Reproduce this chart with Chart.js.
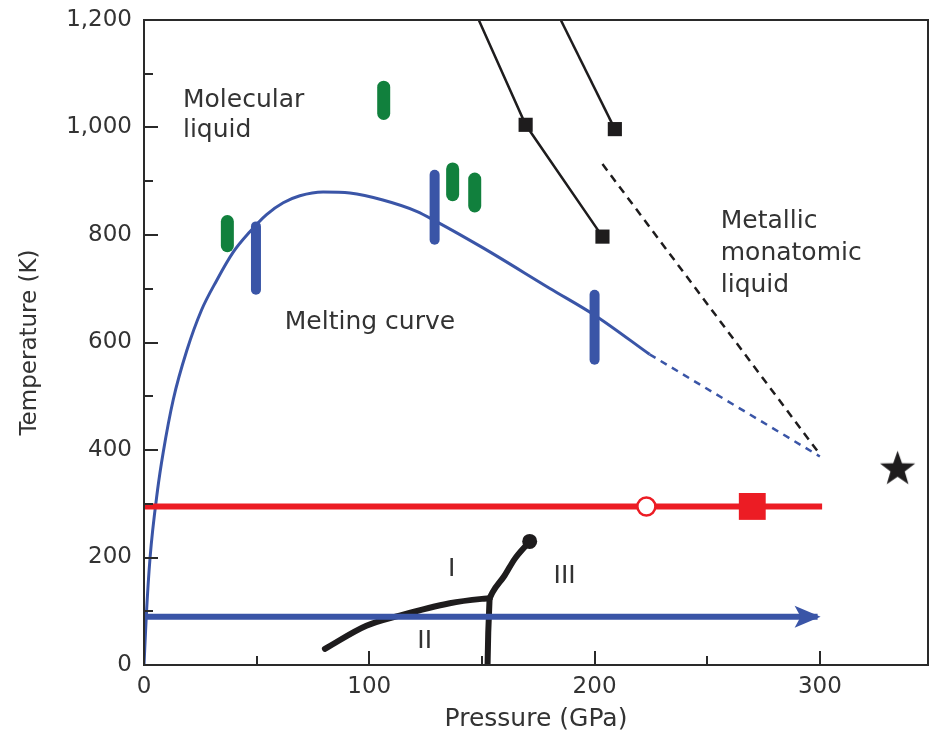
<!DOCTYPE html>
<html>
<head>
<meta charset="utf-8">
<title>Hydrogen phase diagram</title>
<script src="https://cdn.jsdelivr.net/npm/chart.js@4.4.1/dist/chart.umd.min.js"></script>
<style>
  html, body { margin: 0; padding: 0; background: #fff; }
</style>
</head>
<body>
<canvas id="phaseChart" width="934" height="735"></canvas>
<script>
// ===========================
// Data (pressure in GPa, temperature in K)
// ===========================

const xTicks = [0, 100, 200, 300];
const xMinorTicks = [50, 150, 250];
const yTicks = [0, 200, 400, 600, 800, 1000, 1200];
const yMinorTicks = [100, 300, 500, 700, 900, 1100];

// melting curve, measured part and extrapolation
const meltP = [0, 1, 2.7, 6, 8.5, 13, 19, 25.5, 32.2, 39.6, 47, 54.4, 61.8, 69.2, 79.5, 91.4, 106, 121, 129.8, 150.5, 180, 200.7, 224.4];
const meltT = [0, 90, 200, 325, 395, 494, 585, 660, 715, 768, 806, 838, 860, 873, 880, 878, 865, 844, 825, 776, 701, 649, 578];
const meltDashP = [224.4, 300];
const meltDashT = [578, 388];

// melting measurements (vertical bars)
const blueBarP = [49.7, 129, 200];
const blueBarLow = [698, 791, 568];
const blueBarHigh = [816, 912, 689];
const greenBarP = [37, 106.4, 137, 146.8];
const greenBarLow = [780, 1026, 875, 854];
const greenBarHigh = [825, 1075, 923, 904];

// molecular / atomic liquid boundaries
const metalAP = [148.6, 169.4, 203.5];
const metalAT = [1200, 1005, 797];
const metalBP = [185, 209];
const metalBT = [1200, 997];
const metalDashP = [203.5, 300];
const metalDashT = [932, 392];

// room temperature compression and low-temperature path
const roomP = [0, 301];
const roomT = [295, 295];
const openCircleP = [223];
const openCircleT = [295];
const redSquareP = [270];
const redSquareT = [295];
const arrowP = [0, 299];
const arrowT = [90, 90];

// solid phase boundaries I / II / III
const p12P = [80.3, 98.7, 113.5, 135.7, 150, 153.4];
const p12T = [30, 73, 92, 115, 123, 124];
const p23P = [152.5, 152.8, 153.4];
const p23T = [0, 60, 124];
const p13P = [153.4, 154.8, 160, 164.5, 171.2];
const p13T = [124, 136, 166, 197, 230];

const starP = [334.5];
const starT = [368];

const regionLabels = [
    { text: 'Molecular', p: 17.3, t: 1051 },
    { text: 'liquid', p: 17.3, t: 994 },
    { text: 'Melting curve', p: 62.5, t: 637 },
    { text: 'Metallic', p: 256, t: 825 },
    { text: 'monatomic', p: 256, t: 766 },
    { text: 'liquid', p: 256, t: 706 },
    { text: 'I', p: 136.6, t: 178, center: true },
    { text: 'II', p: 124.6, t: 43, center: true },
    { text: 'III', p: 186.7, t: 165, center: true }
];

// ===========================
// Helpers
// ===========================

const BLUE = '#3a55a7';
const GREEN = '#11803d';
const RED = '#ec1c24';
const BLACK = '#1e1c1d';
const TEXT = '#333333';
const FONT = 'DejaVu Sans';

function pts(xs, ys) {
    return xs.map((x, i) => ({ x: x, y: ys[i] }));
}

function makeStar(outer, inner, color) {
    const c = document.createElement('canvas');
    const s = Math.ceil(outer * 2 + 2);
    c.width = s;
    c.height = s;
    const g = c.getContext('2d');
    g.fillStyle = color;
    g.beginPath();
    for (let i = 0; i < 10; i++) {
        const r = i % 2 ? inner : outer;
        const a = -Math.PI / 2 + i * Math.PI / 5;
        g.lineTo(s / 2 + r * Math.cos(a), s / 2 + 2 + r * Math.sin(a));
    }
    g.closePath();
    g.fill();
    return c;
}

function barSet(p, lo, hi, color, width) {
    return p.map((x, i) => ({
        data: [{ x: x, y: lo[i] }, { x: x, y: hi[i] }],
        borderColor: color,
        borderWidth: width,
        borderCapStyle: 'round',
        pointRadius: 0
    }));
}

// ===========================
// Frame, inward ticks, arrowhead and region labels
// ===========================

const decorPlugin = {
    id: 'decor',
    afterDatasetsDraw(chart) {
        const { ctx, chartArea: a, scales: { x, y } } = chart;
        ctx.save();

        // arrowhead at end of the low-temperature path
        const arrowMeta = chart.getDatasetMeta(chart.data.datasets.findIndex(d => d.arrow));
        const end = arrowMeta.data[arrowMeta.data.length - 1];
        ctx.fillStyle = BLUE;
        ctx.beginPath();
        ctx.moveTo(end.x + 3, end.y);
        ctx.lineTo(end.x - 23, end.y - 11);
        ctx.lineTo(end.x - 17, end.y);
        ctx.lineTo(end.x - 23, end.y + 11);
        ctx.closePath();
        ctx.fill();

        // frame
        ctx.strokeStyle = '#2a2a2a';
        ctx.lineWidth = 2;
        ctx.strokeRect(a.left, a.top, a.right - a.left, a.bottom - a.top);

        // tick marks pointing into the plot
        ctx.beginPath();
        xTicks.concat(xMinorTicks).forEach(v => {
            const px = Math.round(x.getPixelForValue(v));
            const len = xTicks.includes(v) ? 14 : 9;
            ctx.moveTo(px, a.bottom);
            ctx.lineTo(px, a.bottom - len);
        });
        yTicks.concat(yMinorTicks).forEach(v => {
            const py = Math.round(y.getPixelForValue(v));
            const len = yTicks.includes(v) ? 14 : 9;
            ctx.moveTo(a.left, py);
            ctx.lineTo(a.left + len, py);
        });
        ctx.stroke();

        // region labels
        ctx.fillStyle = TEXT;
        ctx.font = `25px "${FONT}"`;
        ctx.textBaseline = 'middle';
        regionLabels.forEach(l => {
            ctx.textAlign = l.center ? 'center' : 'left';
            ctx.fillText(l.text, x.getPixelForValue(l.p), y.getPixelForValue(l.t));
        });
        ctx.restore();
    }
};

// ===========================
// Chart
// ===========================

const datasets = [
    {
        data: pts(starP, starT),
        showLine: false,
        pointStyle: makeStar(18.5, 7.5, BLACK),
        pointRadius: 18
    },
    {
        data: pts(redSquareP, redSquareT),
        showLine: false,
        pointStyle: 'rect',
        pointRadius: 19,
        pointBackgroundColor: RED,
        pointBorderWidth: 0
    },
    {
        data: pts(openCircleP, openCircleT),
        showLine: false,
        pointStyle: 'circle',
        pointRadius: 9,
        pointBackgroundColor: '#ffffff',
        pointBorderColor: RED,
        pointBorderWidth: 2.5
    },
    {
        data: pts(roomP, roomT),
        borderColor: RED,
        borderWidth: 6,
        pointRadius: 0
    },
    {
        data: pts(arrowP, arrowT),
        arrow: true,
        borderColor: BLUE,
        borderWidth: 6,
        pointRadius: 0
    },
    {
        data: pts(p13P, p13T),
        borderColor: BLACK,
        borderWidth: 6,
        borderCapStyle: 'round',
        cubicInterpolationMode: 'monotone',
        pointRadius: p13P.map((_, i) => i === p13P.length - 1 ? 7.5 : 0),
        pointBackgroundColor: BLACK,
        pointBorderWidth: 0
    },
    {
        data: pts(p12P, p12T),
        borderColor: BLACK,
        borderWidth: 6,
        borderCapStyle: 'round',
        cubicInterpolationMode: 'monotone',
        pointRadius: 0
    },
    {
        data: pts(p23P, p23T),
        borderColor: BLACK,
        borderWidth: 6,
        pointRadius: 0
    },
    ...barSet(blueBarP, blueBarLow, blueBarHigh, BLUE, 10),
    ...barSet(greenBarP, greenBarLow, greenBarHigh, GREEN, 13),
    {
        data: pts(meltP, meltT),
        borderColor: BLUE,
        borderWidth: 3,
        cubicInterpolationMode: 'monotone',
        pointRadius: 0
    },
    {
        data: pts(meltDashP, meltDashT),
        borderColor: BLUE,
        borderWidth: 2.5,
        borderDash: [7, 6],
        pointRadius: 0
    },
    {
        data: pts(metalAP, metalAT),
        borderColor: BLACK,
        borderWidth: 2.5,
        pointStyle: 'rect',
        pointRadius: [0, 10, 10],
        pointBackgroundColor: BLACK,
        pointBorderWidth: 0
    },
    {
        data: pts(metalBP, metalBT),
        borderColor: BLACK,
        borderWidth: 2.5,
        pointStyle: 'rect',
        pointRadius: [0, 10],
        pointBackgroundColor: BLACK,
        pointBorderWidth: 0
    },
    {
        data: pts(metalDashP, metalDashT),
        borderColor: BLACK,
        borderWidth: 2.5,
        borderDash: [8, 6],
        pointRadius: 0
    }
];

new Chart(document.getElementById('phaseChart'), {
    type: 'line',
    data: { datasets: datasets },
    options: {
        responsive: false,
        animation: false,
        devicePixelRatio: 1,
        layout: {
            autoPadding: false,
            padding: { top: 20, right: 6, left: 0, bottom: 0 }
        },
        plugins: {
            legend: { display: false },
            tooltip: { enabled: false }
        },
        scales: {
            x: {
                type: 'linear',
                min: 0,
                max: 348,
                afterBuildTicks: s => { s.ticks = xTicks.map(v => ({ value: v })); },
                afterFit: s => {
                    s.height = 70;
                    s.paddingLeft = 0;
                    s.paddingRight = 0;
                },
                grid: { display: false, drawTicks: false },
                border: { display: false },
                ticks: {
                    color: TEXT,
                    font: { family: FONT, size: 23 },
                    padding: 8,
                    maxRotation: 0,
                    autoSkip: false
                },
                title: {
                    display: true,
                    text: 'Pressure (GPa)',
                    color: TEXT,
                    font: { family: FONT, size: 25 },
                    padding: { top: 0, bottom: 1 }
                }
            },
            y: {
                type: 'linear',
                min: 0,
                max: 1200,
                afterBuildTicks: s => { s.ticks = yTicks.map(v => ({ value: v })); },
                afterFit: s => {
                    s.width = 144;
                    s.paddingTop = 0;
                    s.paddingBottom = 0;
                },
                grid: { display: false, drawTicks: false },
                border: { display: false },
                ticks: {
                    color: TEXT,
                    font: { family: FONT, size: 23 },
                    padding: 12,
                    autoSkip: false,
                    callback: v => v.toLocaleString('en-US')
                },
                title: {
                    display: true,
                    text: 'Temperature (K)',
                    color: TEXT,
                    font: { family: FONT, size: 23 },
                    padding: { top: 16, bottom: 0 }
                }
            }
        }
    },
    plugins: [decorPlugin]
});
</script>
</body>
</html>
